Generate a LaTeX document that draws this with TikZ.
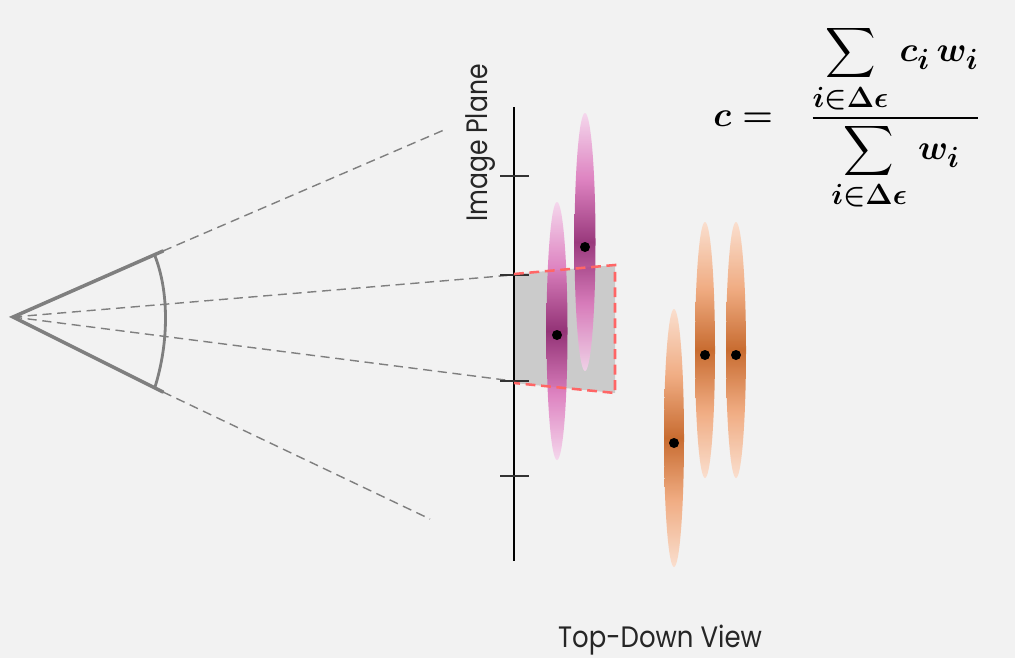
\documentclass[tikz,border=0pt]{standalone}
\usepackage[no-math]{fontspec}
\usepackage{exscale}
\setmainfont{Poppins}
\usetikzlibrary{positioning}

\definecolor{bgcol}{HTML}{F2F2F2}
\definecolor{camgray}{HTML}{7F7F7F}
\definecolor{quadgray}{HTML}{CBCBCB}
\definecolor{edgered}{HTML}{FF6666}
\definecolor{pinktip}{HTML}{F6D3EC}
\definecolor{pinkmid}{HTML}{DA6FB8}
\definecolor{pinkcore}{HTML}{8A1968}
\definecolor{orangetip}{HTML}{FBDDCB}
\definecolor{orangemid}{HTML}{F0A577}
\definecolor{orangecore}{HTML}{C45E1C}

\pgfdeclareverticalshading{pinkblob}{100bp}{color(0bp)=(pinktip); color(25bp)=(pinktip); color(38bp)=(pinkmid); color(50bp)=(pinkcore); color(62bp)=(pinkmid); color(75bp)=(pinktip); color(100bp)=(pinktip)}
\pgfdeclareverticalshading{orangeblob}{100bp}{color(0bp)=(orangetip); color(25bp)=(orangetip); color(38bp)=(orangemid); color(50bp)=(orangecore); color(62bp)=(orangemid); color(75bp)=(orangetip); color(100bp)=(orangetip)}

\newsavebox{\blendbox}

\begin{document}
\sbox{\blendbox}{\fontsize{32}{38}\selectfont\boldmath$c = \mskip12mu\displaystyle\frac{\displaystyle\sum_{i\in\Delta\epsilon}\mskip2mu c_i\mskip3mu w_i}{\displaystyle\sum_{i\in\Delta\epsilon}\mskip2mu w_i}$}%
\begin{tikzpicture}[x=0.025cm, y=-0.025cm,
    camline/.style={camgray, line width=2.5pt, line cap=round},
    rayline/.style={camgray, line width=1pt, dash pattern=on 6.5pt off 4pt},
    planeline/.style={black, line width=1.6pt},
    tickline/.style={black!80, line width=1pt},
    edgeline/.style={edgered, line width=1.8pt, dash pattern=on 7pt off 4pt},
    pinkgauss/.style={shading=pinkblob, opacity=0.85},
    orangegauss/.style={shading=orangeblob, opacity=0.9},
    centerdot/.style={fill=black},
    labeltext/.style={inner sep=0, font=\fontsize{21}{24}\selectfont, text=black!85}]

    \clip (0,0) rectangle (1015,658);
    \fill[bgcol] (0,0) rectangle (1015,658);

    % camera
    \coordinate (apex) at (13,317);
    \coordinate (camtop) at (163,251);
    \coordinate (cambot) at (163,392);
    \draw[rayline] (camtop) -- (444,130);
    \draw[rayline] (cambot) -- (430,519);
    \draw[rayline] (apex) -- (513,275);
    \draw[rayline] (apex) -- (513,381);
    \draw[camline] (camtop) -- (apex) -- (cambot);
    \draw[camgray, line width=2pt] (155,256) .. controls (169,292) and (169,342) .. (155,387);

    % pixel footprint
    \fill[quadgray] (514,274) -- (615,265) -- (615,393) -- (514,383) -- cycle;

    % image plane
    \draw[planeline] (514,107) -- (514,561);
    \foreach \ty in {176,275,381,476}
        \draw[tickline] (500,\ty) -- (529,\ty);

    % gaussians
    \shade[pinkgauss] (557,331) ellipse [x radius=10.5, y radius=129];
    \shade[pinkgauss] (585,242) ellipse [x radius=10.5, y radius=129];
    \shade[orangegauss] (674,438) ellipse [x radius=10, y radius=129];
    \shade[orangegauss] (705,350) ellipse [x radius=10, y radius=128];
    \shade[orangegauss] (736,350) ellipse [x radius=10, y radius=128];

    \draw[edgeline] (514,274) -- (615,265) -- (615,393) -- (514,383);

    \foreach \dx/\dy in {557/335, 585/247, 674/443, 705/355, 736/355}
        \fill[centerdot] (\dx,\dy) circle [radius=5];

    % labels
    \node[labeltext, rotate=90] (planelabel) at (481,143) {\scalebox{0.85}[1]{Image Plane}};
    \node[labeltext] (viewlabel) at (660,640) {\scalebox{0.88}[1]{Top-Down View}};
    \node[inner sep=0, anchor=west] (formula) at (713,118) {\usebox{\blendbox}};
\end{tikzpicture}
\end{document}
